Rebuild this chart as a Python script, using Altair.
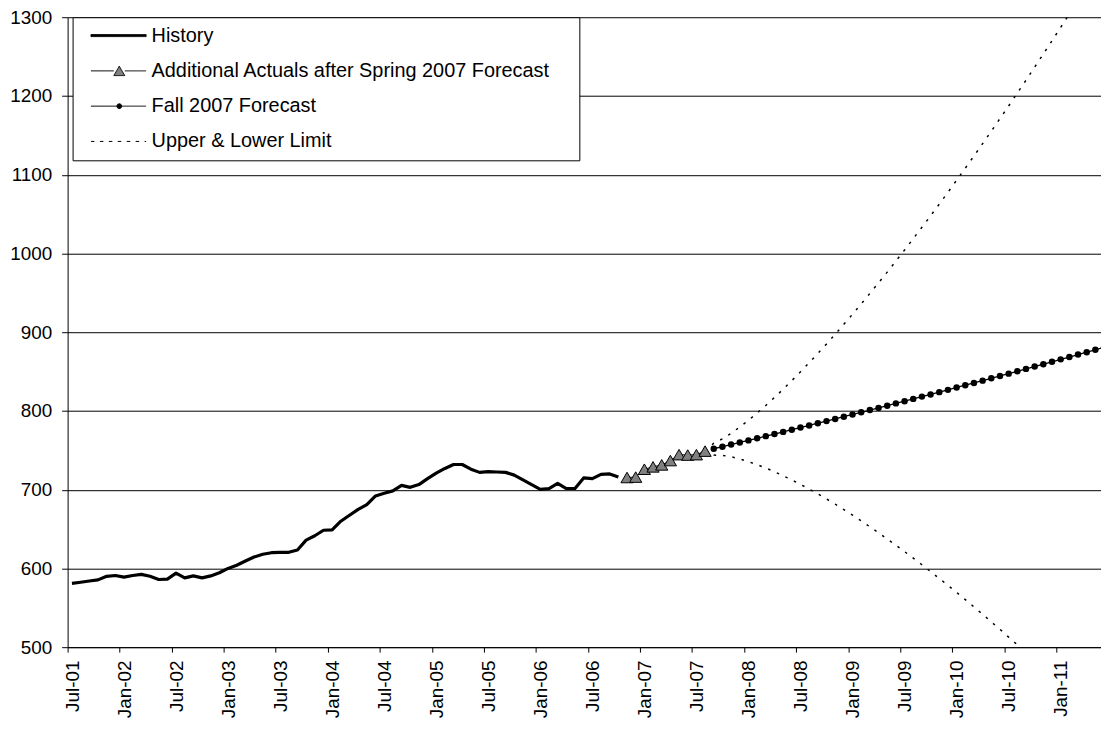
import altair as alt
import pandas as pd

# ---------------- data ----------------
TICK_LABELS = ["Jul-01", "Jan-02", "Jul-02", "Jan-03", "Jul-03", "Jan-04", "Jul-04",
               "Jan-05", "Jul-05", "Jan-06", "Jul-06", "Jan-07", "Jul-07", "Jan-08",
               "Jul-08", "Jan-09", "Jul-09", "Jan-10", "Jul-10", "Jan-11"]

SERIES = ["History",
          "Additional Actuals after Spring 2007 Forecast",
          "Fall 2007 Forecast",
          "Upper & Lower Limit"]

# monthly values, month index 0 = Jul-01
HISTORY_START = 0
HISTORY = [581, 582.5, 584, 585.5, 590, 591, 589, 591, 592.5, 590,
           586, 586.5, 594, 588, 590.5, 588, 590.5, 594.5, 600, 604,
           609.5, 614.5, 618, 620, 620.5, 620.5, 623.5, 636, 641.5, 648.5,
           649, 660, 667.5, 675, 681, 692, 695.5, 698.5, 705.5, 703,
           706.5, 714, 721, 727, 732, 732, 726, 722, 723, 722.5,
           722, 718.5, 712.5, 706.5, 700.5, 701.5, 708, 701.5, 701.5, 715,
           714, 719.5, 720, 716]

ACTUALS_START = 64
ACTUALS = [715.5, 716, 726, 729, 731.5, 737, 744.5, 744, 744.5, 749]

FORECAST_START = 74
FORECAST = [752.0, 754.6, 757.3, 760.0, 762.6, 765.3, 768.0, 770.7, 773.4, 776.2,
            778.9, 781.6, 784.4, 787.1, 789.9, 792.7, 795.5, 798.3, 801.1, 803.9,
            806.7, 809.6, 812.4, 815.3, 818.2, 821.0, 823.9, 826.8, 829.8, 832.7,
            835.6, 838.5, 841.5, 844.5, 847.4, 850.4, 853.4, 856.4, 859.4, 862.4,
            865.5, 868.5, 871.6, 874.6, 877.7, 880.8]

LIMIT_START = 73
UPPER = [749.0, 759.0, 764.5, 771.6, 779.6, 788.1, 797.3, 807.0, 817.1, 827.6, 838.5,
         849.7, 861.2, 873.0, 885.0, 897.4, 910.0, 922.8, 935.9, 949.2, 962.7,
         976.3, 990.3, 1004.4, 1018.7, 1033.2, 1047.8, 1062.7, 1077.7, 1093.0, 1108.3,
         1123.8, 1139.4, 1155.3, 1171.3, 1187.3, 1203.6, 1220.0, 1236.6, 1253.3, 1270.1,
         1287.1, 1304.2, 1321.4, 1338.7, 1356.3, 1373.9]
LOWER = [749.0, 744.0, 743.6, 741.8, 739.1, 735.6, 731.8, 727.5, 722.8, 717.7, 712.4,
         706.8, 700.8, 694.7, 688.2, 681.6, 674.7, 667.7, 660.4, 652.9, 645.3,
         637.4, 629.6, 621.4, 613.1, 604.7, 596.0, 587.3, 578.5, 569.6, 560.4,
         551.1, 541.7, 532.2, 522.7, 512.8, 503.0, 493.0, 483.0, 472.7, 462.4,
         452.1, 441.6, 431.0, 420.3, 409.5, 398.7]


def frame(values, start, name):
    return pd.DataFrame({"m": list(range(start, start + len(values))),
                         "v": values, "series": name})


hist_df = frame(HISTORY, HISTORY_START, SERIES[0])
act_df = frame(ACTUALS, ACTUALS_START, SERIES[1])
fc_df = frame(FORECAST, FORECAST_START, SERIES[2])
lim_df = pd.concat([frame(UPPER, LIMIT_START, "upper"),
                    frame(LOWER, LIMIT_START, "lower")])
legend_df = pd.DataFrame({"m": [-10] * 4, "v": [0] * 4, "series": SERIES})

FONT = "Liberation Sans"

label_expr = "[" + ",".join("'%s'" % s for s in TICK_LABELS) + "][round((datum.value + 0.5) / 6)]"

x_axis = alt.Axis(values=[-0.5 + 6 * k for k in range(len(TICK_LABELS))],
                  labelExpr=label_expr, labelAngle=270, labelFont=FONT,
                  labelFontSize=19, labelColor="black", labelPadding=8,
                  labelOffset=4.5, tickSize=5, tickColor="black", domainColor="black",
                  grid=False, title=None, labelOverlap=False, labelFlush=False)
y_axis = alt.Axis(values=list(range(500, 1301, 100)), format="d", labelFont=FONT,
                  labelFontSize=19, labelColor="black", labelPadding=10, tickSize=6,
                  tickColor="black", domainColor="black", grid=True, gridColor="black",
                  gridWidth=1, title=None, labelOverlap=False, labelFlush=False)

x_enc = alt.X("m:Q", scale=alt.Scale(domain=[-0.5, 118.65], nice=False, zero=False), axis=x_axis)
y_enc = alt.Y("v:Q", scale=alt.Scale(domain=[500, 1300], nice=False, zero=False), axis=y_axis)

hist = alt.Chart(hist_df).mark_line(color="black", strokeWidth=3.2, strokeJoin="round",
                                    clip=True).encode(x=x_enc, y=y_enc)
limits = alt.Chart(lim_df).mark_line(color="black", strokeWidth=1.5, strokeDash=[2.5, 7],
                                     clip=True).encode(x=x_enc, y=y_enc, detail="series:N")
act_line = alt.Chart(act_df).mark_line(color="black", strokeWidth=1, clip=True).encode(x=x_enc, y=y_enc)
act_pts = alt.Chart(act_df).mark_point(shape="triangle-up", filled=True, fill="#808080",
                                       stroke="black", strokeWidth=1, size=150, opacity=1,
                                       clip=True).encode(x=x_enc, y=y_enc)
fc_line = alt.Chart(fc_df).mark_line(color="black", strokeWidth=1.3, clip=True).encode(x=x_enc, y=y_enc)
fc_pts = alt.Chart(fc_df).mark_point(shape="circle", filled=True, fill="black", size=42,
                                     opacity=1, clip=True).encode(x=x_enc, y=y_enc)

# legend symbols (unit = sqrt(symbolSize)/2 = 5 px)
PATHS = [
    "M0,-0.2H11.1V0.2H0Z",
    "M0,0H4.6M6.8,0H11.1M4.6,0.95L5.7,-0.95L6.8,0.95Z",
    "M0,0H5.2M6.2,0H11.1M6.2,0L6.054,0.354L5.7,0.5L5.346,0.354L5.2,0L5.346,-0.354L5.7,-0.5L6.054,-0.354Z",
    "M0,0H11.1",
]
legend = alt.Legend(title=None, orient="none", legendX=5, legendY=0,
                    strokeColor="black", fillColor="white", padding=8.5,
                    labelFont=FONT, labelFontSize=20, labelColor="black",
                    labelOffset=51, rowPadding=15.5, symbolSize=100,
                    symbolStrokeColor="black", symbolStrokeWidth=1,
                    labelExpr="datum.label + '\u00a0\u2800'", labelLimit=0)

leg_layer = alt.Chart(legend_df).mark_point(filled=True, strokeWidth=1,
                                            opacity=1, clip=True).encode(
    x=x_enc, y=y_enc,
    shape=alt.Shape("series:N", scale=alt.Scale(domain=SERIES, range=PATHS), legend=legend),
    fill=alt.Fill("series:N", scale=alt.Scale(domain=SERIES,
                                              range=["black", "#808080", "black", "transparent"]),
                  legend=legend),
    stroke=alt.Stroke("series:N", scale=alt.Scale(domain=SERIES,
                                                  range=["black", "black", "black", "black"]),
                      legend=legend),
    strokeDash=alt.StrokeDash("series:N", scale=alt.Scale(domain=SERIES,
                                                          range=[[1, 0], [1, 0], [1, 0], [3.5, 5.5]]),
                              legend=legend),
)

chart = alt.layer(hist, limits, act_line, act_pts, fc_line, fc_pts, leg_layer).properties(
    width=1040, height=634,
    padding={"left": 60, "top": 7, "right": 0, "bottom": 72},
    autosize=alt.AutoSizeParams(type="none"),
    background="white",
).configure_view(strokeWidth=0)

chart.save("out.html", embed_options={"renderer": "svg", "actions": False})
